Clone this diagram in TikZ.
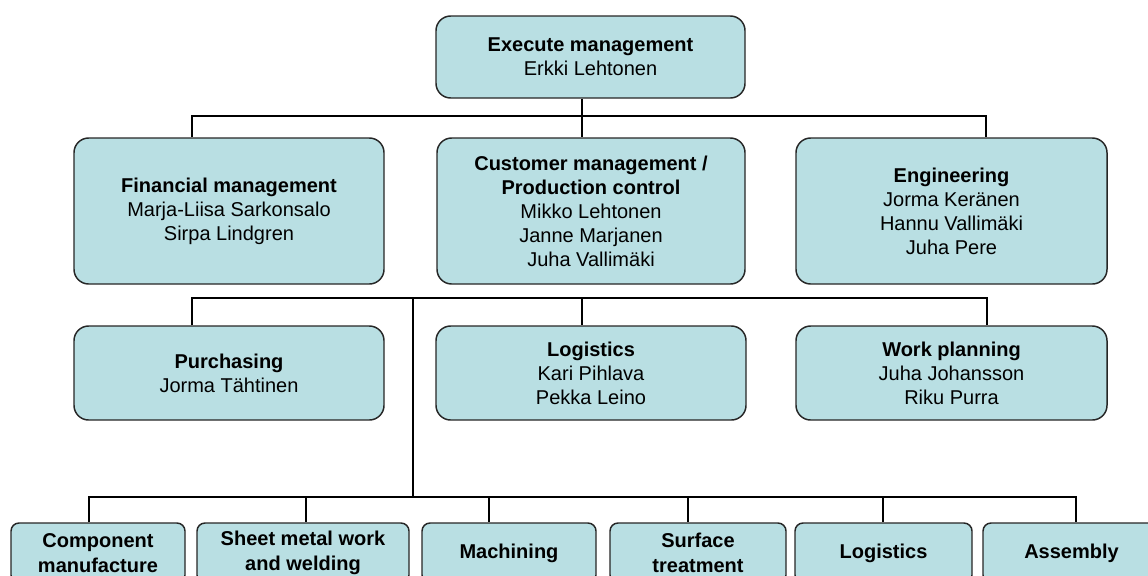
\documentclass[tikz,border=0pt]{standalone}
\usepackage{fontspec}
\setmainfont{Liberation Sans}
\definecolor{boxblue}{RGB}{185,223,227}

\begin{document}
\begin{tikzpicture}[x=0.75pt,y=0.75pt,yscale=-1,xscale=1,
	unit/.style={draw=black!85,fill=boxblue,line width=1.1pt,rounded corners=11pt,align=center,inner sep=0pt,font=\fontsize{15}{18}\selectfont},
	shop/.style={unit,rounded corners=6pt,font=\fontsize{15}{18.5}\selectfont},
	link/.style={line width=1.4pt}]
		\useasboundingbox (0,0) rectangle (1148,575);
		\clip (0,0) rectangle (1148,575);
		% boxes
		\node[unit,minimum width=231.75pt,minimum height=61.5pt] (top) at (590.5,57) {\textbf{Execute management}\\Erkki Lehtonen};
		\node[unit,minimum width=232.5pt,minimum height=109.5pt] (fin) at (229,211) {\textbf{Financial management}\\Marja-Liisa Sarkonsalo\\Sirpa Lindgren};
		\node[unit,minimum width=231pt,minimum height=109.5pt] (cust) at (591,211) {\textbf{Customer management /}\\\textbf{Production control}\\Mikko Lehtonen\\Janne Marjanen\\Juha Vallimäki};
		\node[unit,minimum width=233.25pt,minimum height=109.5pt] (eng) at (951.5,211) {\textbf{Engineering}\\Jorma Keränen\\Hannu Vallimäki\\Juha Pere};
		\node[unit,minimum width=232.5pt,minimum height=70.5pt] (pur) at (229,373) {\textbf{Purchasing}\\Jorma Tähtinen};
		\node[unit,minimum width=232.5pt,minimum height=70.5pt] (logi) at (591,373) {\textbf{Logistics}\\Kari Pihlava\\Pekka Leino};
		\node[unit,minimum width=233.25pt,minimum height=70.5pt] (work) at (951.5,373) {\textbf{Work planning}\\Juha Johansson\\Riku Purra};
		\node[shop,minimum width=130.5pt,minimum height=45pt] (m1) at (98,553) {\textbf{Component}\\\textbf{manufacture}};
		\node[shop,minimum width=159pt,minimum height=45pt] (m2) at (303,553) {\textbf{Sheet metal work}\\\textbf{and welding}};
		\node[shop,minimum width=130.5pt,minimum height=45pt] (m3) at (509,553) {\textbf{Machining}};
		\node[shop,minimum width=132pt,minimum height=45pt] (m4) at (698,553) {\textbf{Surface}\\\textbf{treatment}};
		\node[shop,minimum width=132.75pt,minimum height=45pt] (m5) at (883.5,553) {\textbf{Logistics}};
		\node[shop,minimum width=132.75pt,minimum height=45pt] (m6) at (1071.5,553) {\textbf{Assembly}};
		% bus lines
		\coordinate (b1L) at (192,116);
		\coordinate (b1M) at (582,116);
		\coordinate (b1R) at (986,116);
		\coordinate (b2L) at (192,298);
		\coordinate (b2D) at (413,298);
		\coordinate (b2M) at (582,298);
		\coordinate (b2R) at (987,298);
		\coordinate (b3L) at (89,497);
		\coordinate (b3R) at (1076,497);
		\draw[link] (b1L |- fin.north) -- (b1L) -- (b1R) -- (b1R |- eng.north);
		\draw[link] (top.south -| b1M) -- (cust.north -| b1M);
		\draw[link] (b2L |- pur.north) -- (b2L) -- (b2R) -- (b2R |- work.north);
		\draw[link] (b2M) -- (b2M |- logi.north);
		\draw[link] (b2D) -- (b2D |- b3L);
		\draw[link] (b3L |- m1.north) -- (b3L) -- (b3R) -- (b3R |- m6.north);
		\foreach \n/\x in {m2/306,m3/489,m4/688,m5/883}{
			\coordinate (j\n) at (\x,497);
			\draw[link] (j\n) -- (j\n |- \n.north);
		}
\end{tikzpicture}
\end{document}
